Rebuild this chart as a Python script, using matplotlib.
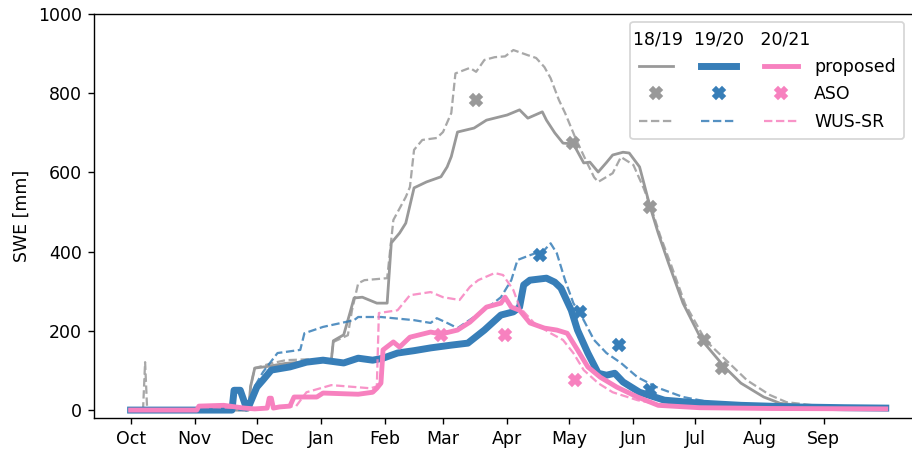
import matplotlib
matplotlib.use("Agg")
import matplotlib.pyplot as plt

# days counted from Oct 1 (water year)
month_days = [0, 31, 61, 92, 123, 151, 182, 212, 243, 273, 304, 335]
month_labels = ["Oct", "Nov", "Dec", "Jan", "Feb", "Mar", "Apr", "May", "Jun", "Jul", "Aug", "Sep"]
years = ["18/19", "19/20", "20/21"]

# 18/19
prop_1819_day = [0, 57, 58, 60, 66, 75, 85, 97, 98, 103, 106, 108, 112, 119, 124, 126, 130, 133, 137,
                 143, 150, 153, 155, 158, 166, 172, 182, 188, 192, 199, 201, 205, 209, 214, 219, 222,
                 226, 230, 233, 238, 241, 246, 251, 255, 260, 267, 276, 287, 295, 306, 314, 327, 345, 365]
prop_1819_swe = [0, 0, 60, 106, 110, 118, 122, 126, 175, 190, 245, 283, 285, 270, 270, 422, 447, 472, 561,
                 576, 589, 614, 640, 702, 712, 732, 745, 758, 737, 753, 732, 700, 674, 672, 624, 626,
                 601, 625, 644, 651, 649, 614, 515, 447, 371, 270, 177, 109, 68, 33, 17, 10, 7, 5]
wus_1819_day = [0, 6, 7, 8, 9, 57, 58, 60, 68, 75, 85, 97, 98, 105, 107, 110, 113, 124, 127, 133, 135, 137,
                141, 148, 151, 155, 157, 164, 167, 171, 176, 181, 185, 192, 196, 200, 203, 207, 210, 215, 220,
                224, 226, 233, 237, 243, 248, 252, 256, 261, 268, 278, 290, 298, 309, 317, 330, 345, 365]
wus_1819_swe = [0, 0, 121, 0, 0, 0, 60, 106, 118, 126, 128, 128, 172, 189, 252, 320, 328, 333, 480, 538, 563, 657,
                682, 687, 702, 750, 850, 864, 854, 884, 891, 893, 909, 896, 889, 866, 838, 783, 750, 687, 631,
                588, 576, 598, 639, 619, 560, 505, 440, 370, 268, 175, 115, 75, 38, 20, 12, 8, 6]
aso_1819_day = [167, 214, 251, 277, 286]
aso_1819_swe = [783, 674, 513, 177, 106]

# 19/20
prop_1920_day = [0, 49, 50, 53, 55, 56, 57, 61, 64, 68, 77, 85, 93, 103, 110, 117, 122, 129, 137, 145,
                 155, 163, 171, 179, 185, 188, 190, 193, 201, 205, 208, 213, 216, 221, 226, 230, 234,
                 238, 246, 258, 274, 295, 320, 345, 365]
prop_1920_swe = [0, 0, 50, 50, 20, 5, 8, 58, 76, 101, 109, 121, 126, 119, 131, 126, 131, 144, 150, 157,
                 164, 169, 202, 240, 248, 260, 316, 328, 333, 323, 308, 252, 202, 144, 93, 88, 93,
                 71, 45, 25, 18, 12, 8, 6, 5]
wus_1920_day = [0, 57, 60, 64, 71, 82, 84, 93, 108, 110, 121, 137, 145, 148, 153, 158, 166, 171, 179, 184,
                187, 193, 200, 203, 206, 210, 214, 219, 224, 230, 237, 245, 255, 267, 285, 310, 340, 365]
wus_1920_swe = [0, 0, 60, 96, 144, 152, 194, 210, 227, 235, 235, 227, 220, 232, 220, 207, 235, 252, 285, 328,
                379, 391, 404, 421, 396, 328, 270, 227, 177, 144, 119, 83, 56, 33, 15, 8, 5, 4]
aso_1920_day = [198, 217, 236, 251]
aso_1920_swe = [391, 248, 164, 50]

# 20/21
prop_2021_day = [0, 32, 33, 45, 55, 60, 66, 67, 68, 69, 72, 77, 79, 90, 93, 110, 117, 119, 121, 122, 127,
                 130, 135, 145, 150, 158, 164, 172, 179, 181, 184, 188, 193, 200, 206, 211, 216, 221,
                 227, 235, 245, 255, 275, 310, 365]
prop_2021_swe = [0, 0, 10, 12, 5, 3, 5, 30, 30, 5, 8, 10, 33, 33, 43, 40, 45, 55, 68, 152, 172,
                 159, 184, 197, 192, 202, 222, 260, 270, 285, 260, 252, 220, 207, 202, 194, 152, 109,
                 83, 58, 33, 12, 6, 4, 3]
wus_2021_day = [0, 32, 33, 55, 60, 80, 85, 97, 116, 119, 120, 129, 135, 145, 151, 159, 164, 168, 176, 180,
                185, 188, 195, 203, 209, 214, 219, 226, 233, 245, 260, 290, 365]
wus_2021_swe = [0, 0, 8, 5, 3, 10, 45, 63, 55, 60, 245, 252, 290, 298, 285, 278, 311, 328, 346, 341,
                303, 260, 220, 194, 177, 144, 101, 68, 45, 25, 10, 4, 3]
aso_2021_day = [150, 181, 215]
aso_2021_swe = [189, 189, 76]

colors = ["#999999", "#377eb8", "#f781bf"]
widths = [1.6, 4.0, 2.8]


def plot_swe():
    fig = plt.figure(figsize=(912 / 125, 449 / 125), dpi=125)
    # axes run a bit past the right edge of the figure
    ax = fig.add_axes([94 / 912, 1 - 418 / 449, 829 / 912, 404 / 449])

    series = [
        (prop_1819_day, prop_1819_swe, wus_1819_day, wus_1819_swe, aso_1819_day, aso_1819_swe),
        (prop_1920_day, prop_1920_swe, wus_1920_day, wus_1920_swe, aso_1920_day, aso_1920_swe),
        (prop_2021_day, prop_2021_swe, wus_2021_day, wus_2021_swe, aso_2021_day, aso_2021_swe),
    ]
    handles = []
    for (pd_, ps, wd, ws, ad, av), c, lw in zip(series, colors, widths):
        h1, = ax.plot(pd_, ps, color=c, lw=lw)
        h2, = ax.plot(ad, av, ls="none", marker="X", ms=7, color=c, zorder=4)
        h3, = ax.plot(wd, ws, color=c, lw=1.3, ls="--", alpha=0.85)
        handles += [h1, h2, h3]

    # year names go in the title row, one column of handles per year
    labels = ["", "", "", "", "", "", "proposed", "ASO", "WUS-SR"]
    leg = ax.legend(handles, labels, ncol=3, loc="upper left", bbox_to_anchor=(0.6466, 0.9802),
                    borderaxespad=0, borderpad=0.5, title="  ".join(years[:2]) + "   " + years[2],
                    alignment="left", handlelength=2.0, handletextpad=0.9, columnspacing=0.7,
                    labelspacing=0.54)
    leg.get_title().set_x(-6)

    ax.set_xticks(month_days)
    ax.set_xticklabels(month_labels)
    ax.set_xlim(-17.7, 383)
    ax.set_ylim(-20, 1000)
    ax.set_yticks([0, 200, 400, 600, 800, 1000])
    ax.set_ylabel("SWE [mm]")
    fig.savefig("out.png", dpi=125)


if __name__ == '__main__':
    plot_swe()
